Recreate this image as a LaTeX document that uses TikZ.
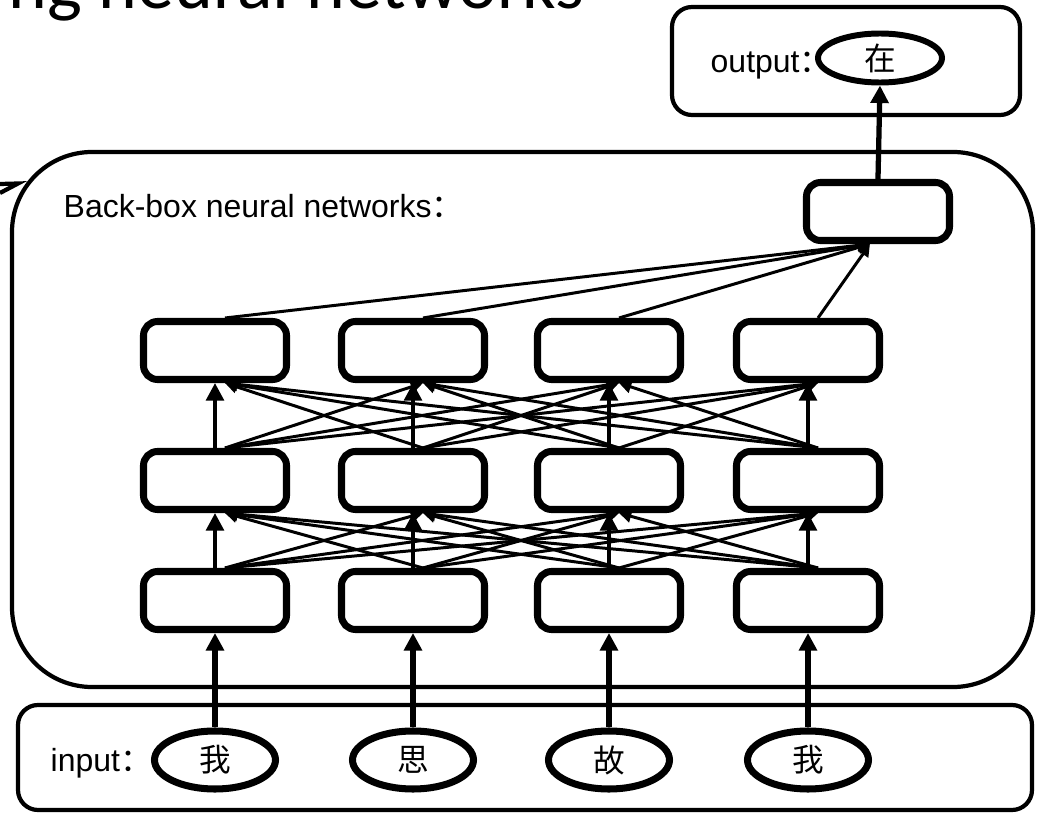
\documentclass[tikz,border=0pt]{standalone}
\usepackage{fontspec}
\setmainfont{Liberation Sans}
\newfontfamily\cjk{Noto Sans CJK SC}
\newfontfamily\titlefont{Carlito}
\usetikzlibrary{arrows.meta,shapes.geometric}

\tikzset{
  unit/.style={rectangle,rounded corners=4pt,draw,fill=white,line width=2pt,minimum width=1.43cm,minimum height=0.58cm,inner sep=0pt},
  word/.style={ellipse,draw,fill=white,line width=2pt,minimum width=1.21cm,minimum height=0.58cm,inner sep=0pt,font=\cjk\fontsize{9}{10}\selectfont},
  frame/.style={rectangle,draw,line width=1.2pt,inner sep=0pt},
  boxtext/.style={anchor=base west,inner sep=0pt,font=\fontsize{9.1}{11}\selectfont},
  feed/.style={line width=1.5pt,-{Triangle[width=5pt,length=5pt]}},
  link/.style={line width=0.85pt,-{Triangle[width=3.5pt,length=3.5pt]}}
}

\begin{document}
\begin{tikzpicture}
\useasboundingbox (0,0) rectangle (10.38,-8.14);
\clip (0,0) rectangle (10.38,-8.14);
% slide title, cut by the top edge
\node[anchor=base west,inner sep=0pt,font=\titlefont\fontsize{21}{21}\selectfont] (title) at (0.08,-0.09) {ng neural networks};
\draw[line width=1.2pt] (0,-1.84) -- (0.18,-1.835) -- (0,-1.93);

% frames
\node[frame,rounded corners=0.8cm,minimum width=10.21cm,minimum height=5.35cm] (net) at (5.225,-4.195) {};
\node[frame,rounded corners=0.2cm,minimum width=3.48cm,minimum height=1.08cm] (outbox) at (8.46,-0.61) {};
\node[frame,rounded corners=0.2cm,minimum width=10.14cm,minimum height=1.05cm] (inbox) at (5.25,-7.575) {};
\node[boxtext] (nettext) at (0.63,-2.17) {Back-box neural networks{\cjk ：}};
\node[boxtext] (outtext) at (7.10,-0.72) {output{\cjk ：}};
\node[boxtext] (intext) at (0.50,-7.72) {input{\cjk ：}};

% words
\node[word] (w1) at (2.15,-7.60) {我};
\node[word] (w2) at (4.13,-7.60) {思};
\node[word] (w3) at (6.09,-7.60) {故};
\node[word] (w4) at (8.08,-7.60) {我};
\node[word,line width=1.7pt,minimum width=1.24cm,minimum height=0.49cm] (out) at (8.80,-0.58) {在};

% hidden layers
\node[unit] (b1) at (2.15,-6.005) {};
\node[unit] (b2) at (4.13,-6.005) {};
\node[unit] (b3) at (6.09,-6.005) {};
\node[unit] (b4) at (8.08,-6.005) {};
\node[unit] (m1) at (2.15,-4.805) {};
\node[unit] (m2) at (4.13,-4.805) {};
\node[unit] (m3) at (6.09,-4.805) {};
\node[unit] (m4) at (8.08,-4.805) {};
\node[unit] (t1) at (2.15,-3.505) {};
\node[unit] (t2) at (4.13,-3.505) {};
\node[unit] (t3) at (6.09,-3.505) {};
\node[unit] (t4) at (8.08,-3.505) {};
\node[unit] (hid) at (8.78,-2.115) {};

% connections
\foreach \i in {1,...,4} {
  \draw[feed] (w\i.north) -- (b\i.south);
  \draw[feed,line width=1.1pt] (b\i.north) -- (m\i.south);
  \draw[feed,line width=1.1pt] (m\i.north) -- (t\i.south);
  \foreach \j in {1,...,4} {
    \ifnum\i=\j\else
      \draw[link] ([xshift=1mm]b\i.north) -- ([xshift=1mm]m\j.south);
      \draw[link] ([xshift=1mm]m\i.north) -- ([xshift=1mm]t\j.south);
    \fi
  }
  \draw[link] ([xshift=1mm]t\i.north) -- ([xshift=-0.8mm]hid.south);
}
\draw[feed] (hid.north) -- (out.south);
\end{tikzpicture}
\end{document}
